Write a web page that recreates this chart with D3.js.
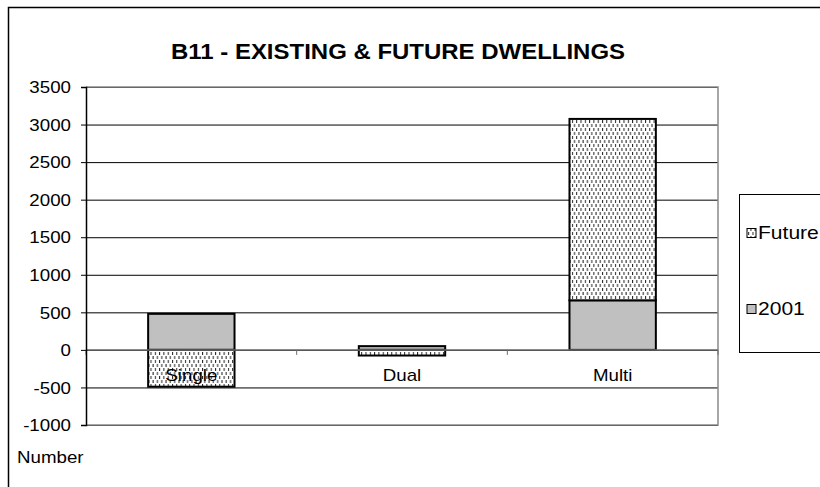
<!DOCTYPE html>
<html>
<head>
<meta charset="utf-8">
<script src="https://cdn.jsdelivr.net/npm/d3@7"></script>
<style>
  html, body { margin: 0; padding: 0; background: #fff; }
  svg { display: block; font-family: "Liberation Sans", Arial, sans-serif; }
</style>
</head>
<body>
<svg id="chart" width="820" height="487"></svg>
<script>
// Dwelling counts by type
const categories = ["Single", "Dual", "Multi"];
const existing2001 = [480, 50, 660];
const future = [-490, -75, 2415];
const yTicks = [-1000, -500, 0, 500, 1000, 1500, 2000, 2500, 3000, 3500];
const seriesNames = ["Future", "2001"];

const svg = d3.select("#chart");
const SX = 1.17;        // horizontal stretch of the lettering
const FONT = 16;

const plot = { left: 86, right: 718, top: 87, bottom: 425 };

const x = d3.scaleBand().domain(categories).range([plot.left, plot.right]).padding(0);
const y = d3.scaleLinear().domain([-1000, 3500]).range([plot.bottom, plot.top]);
const barW = x.bandwidth() * 0.41;

// Fill pattern for the future series
const defs = svg.append("defs");
const pat = defs.append("pattern").attr("id", "dotfill")
  .attr("patternUnits", "userSpaceOnUse").attr("width", 4.3).attr("height", 8);
pat.append("rect").attr("width", 4.3).attr("height", 8).attr("fill", "#fff");
pat.append("rect").attr("x", 0).attr("y", 0).attr("width", 1).attr("height", 3).attr("fill", "#222");
pat.append("rect").attr("x", 2.15).attr("y", 4).attr("width", 1).attr("height", 3).attr("fill", "#222");

const fills = { "Future": "url(#dotfill)", "2001": "#c0c0c0" };

// Outer chart frame
svg.append("rect").attr("x", 8.5).attr("y", 7.5).attr("width", 830).attr("height", 500)
  .attr("fill", "none").attr("stroke", "#000").attr("stroke-width", 1.5);

// Helper for stretched text
function label(g, txt, px, py, anchor, size, weight) {
  return g.append("text")
    .attr("transform", `translate(${px},${py}) scale(${SX},1)`)
    .attr("text-anchor", anchor || "start")
    .attr("font-size", size || FONT)
    .attr("font-weight", weight || "normal")
    .attr("fill", "#000")
    .text(txt);
}

// Title
svg.append("text")
  .attr("transform", `translate(398,59) scale(1.09,1)`)
  .attr("text-anchor", "middle")
  .attr("font-size", 22).attr("font-weight", "bold")
  .text("B11 - EXISTING & FUTURE DWELLINGS");

// Gridlines
const grid = svg.append("g").attr("transform", `translate(${plot.left},0)`)
  .call(d3.axisLeft(y).tickValues(yTicks).tickSize(-(plot.right - plot.left)).tickFormat(""));
grid.select(".domain").remove();
grid.selectAll(".tick line").attr("stroke", "#000").attr("stroke-width", 1);

// Plot area border (top, right, bottom)
svg.append("path")
  .attr("d", `M${plot.left},${plot.top}H${plot.right}V${plot.bottom}H${plot.left}`)
  .attr("fill", "none").attr("stroke", "#8a8a8a").attr("stroke-width", 1.5);

// Stacked bars: positive and negative values stack from zero separately
const stacks = categories.map((c, i) => {
  const vals = [{ name: "2001", v: existing2001[i] }, { name: "Future", v: future[i] }];
  let pos = 0, neg = 0;
  return vals.map(d => {
    let y0, y1;
    if (d.v >= 0) { y0 = pos; y1 = pos + d.v; pos = y1; }
    else { y0 = neg; y1 = neg + d.v; neg = y1; }
    return { cat: c, name: d.name, y0, y1 };
  });
}).flat();

svg.append("g").selectAll("rect").data(stacks).join("rect")
  .attr("x", d => x(d.cat) + (x.bandwidth() - barW) / 2)
  .attr("width", barW)
  .attr("y", d => y(Math.max(d.y0, d.y1)))
  .attr("height", d => Math.abs(y(d.y0) - y(d.y1)))
  .attr("fill", d => fills[d.name])
  .attr("stroke", "#000").attr("stroke-width", 2);

// Category axis along zero
const zeroY = y(0);
svg.append("line").attr("x1", plot.left).attr("x2", plot.right)
  .attr("y1", zeroY).attr("y2", zeroY).attr("stroke", "#6e6e6e").attr("stroke-width", 1.5);
const bounds = categories.map(c => x(c)).concat([plot.right]);
svg.append("g").selectAll("line").data(bounds).join("line")
  .attr("x1", d => d).attr("x2", d => d)
  .attr("y1", zeroY).attr("y2", zeroY + 5)
  .attr("stroke", "#6e6e6e").attr("stroke-width", 1);

const catG = svg.append("g");
categories.forEach(c => label(catG, c, x(c) + x.bandwidth() / 2, 381, "middle", 16));

// Value axis
const yAxis = svg.append("g").attr("transform", `translate(${plot.left},0)`)
  .call(d3.axisLeft(y).tickValues(yTicks).tickSize(5).tickFormat(d => String(d)));
yAxis.select(".domain").attr("stroke", "#000").attr("stroke-width", 1.5);
yAxis.selectAll(".tick line").attr("stroke", "#000");
yAxis.selectAll(".tick text")
  .attr("x", null).attr("dy", null)
  .attr("transform", `translate(-15,5.7) scale(${SX},1)`)
  .attr("font-size", FONT).attr("font-family", "Liberation Sans, Arial, sans-serif")
  .attr("fill", "#000");

// Axis unit caption
label(svg, "Number", 17, 463, "start");

// Legend
const lg = svg.append("g");
lg.append("rect").attr("x", 739.5).attr("y", 194.5).attr("width", 120).attr("height", 158)
  .attr("fill", "#fff").attr("stroke", "#000").attr("stroke-width", 1);
const legendY = [233, 309];
seriesNames.forEach((n, i) => {
  lg.append("rect").attr("x", 747).attr("y", legendY[i] - 4.5).attr("width", 9).attr("height", 9)
    .attr("fill", fills[n]).attr("stroke", "#000").attr("stroke-width", 1);
  label(lg, n, 758, legendY[i] + 6, "start", 18);
});
</script>
</body>
</html>
